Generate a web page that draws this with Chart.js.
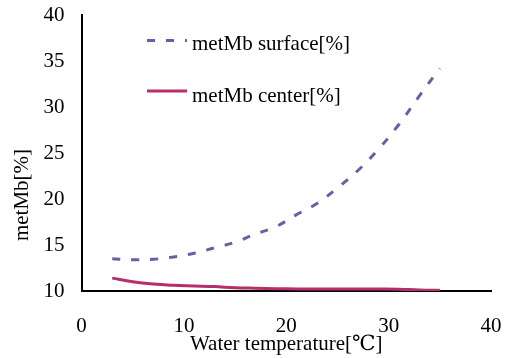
<!DOCTYPE html>
<html>
<head>
<meta charset="utf-8">
<script src="https://cdn.jsdelivr.net/npm/chart.js@4/dist/chart.umd.min.js"></script>
<style>
html,body{margin:0;padding:0;background:#fff;}
#wrap{width:508px;height:358px;position:relative;}
#fontprobe{position:absolute;left:-1000px;top:0;font-family:'Liberation Serif';font-size:21px;}
</style>
</head>
<body>
<span id="fontprobe">metMb Water 0123456789[%]&#8451;</span>
<div id="wrap"><canvas id="c" width="508" height="358"></canvas></div>
<script>
const temperatures = [3, 5, 7, 9, 11, 13, 15, 17, 19, 21, 23, 25, 27, 29, 31, 33, 35];
const surfaceValues = [13.5, 13.4, 13.45, 13.7, 14.1, 14.7, 15.3, 16.2, 17.0, 18.3, 19.5, 21.2, 23.1, 25.4, 28.1, 31.2, 34.2];
const centerValues = [11.4, 11.0, 10.75, 10.62, 10.55, 10.48, 10.35, 10.3, 10.25, 10.22, 10.22, 10.22, 10.22, 10.22, 10.2, 10.12, 10.08];
const seriesNames = ["metMb surface[%]", "metMb center[%]"];
const xTickValues = [0, 10, 20, 30, 40];
const yTickValues = [10, 15, 20, 25, 30, 35, 40];
const xTitle = "Water temperature[\u2103]";
const yTitle = "metMb[%]";

const FONT = "'Liberation Serif', 'DejaVu Serif', serif";
const FSIZE = 21;

const toPoints = (xs, ys) => xs.map((x, i) => ({x: x, y: ys[i]}));

function zeroPad(s) {
  s.paddingTop = 0; s.paddingBottom = 0; s.paddingLeft = 0; s.paddingRight = 0;
}

const legendPlugin = {
  id: 'customLegend',
  afterDraw(chart) {
    const ctx = chart.ctx;
    const rows = [{lineY: 40.5, textY: 50}, {lineY: 91, textY: 102}];
    chart.data.datasets.forEach((ds, i) => {
      const r = rows[i];
      ctx.save();
      ctx.strokeStyle = ds.borderColor;
      ctx.lineWidth = ds.borderWidth;
      ctx.setLineDash(ds.borderDash || []);
      ctx.lineCap = 'butt';
      ctx.beginPath();
      ctx.moveTo(147, r.lineY);
      ctx.lineTo(187, r.lineY);
      ctx.stroke();
      ctx.setLineDash([]);
      ctx.fillStyle = '#000';
      ctx.font = FSIZE + "px " + FONT;
      ctx.textAlign = 'left';
      ctx.textBaseline = 'alphabetic';
      ctx.fillText(ds.label, 192, r.textY);
      ctx.restore();
    });
    ctx.save();
    ctx.translate(22, 195);
    ctx.rotate(-Math.PI / 2);
    ctx.fillStyle = '#000';
    ctx.font = FSIZE + "px " + FONT;
    ctx.textAlign = 'center';
    ctx.textBaseline = 'middle';
    ctx.fillText(yTitle, 0, 0);
    ctx.restore();
  }
};

function draw() {
  new Chart(document.getElementById('c'), {
    type: 'line',
    data: {
      datasets: [
        {
          label: seriesNames[0],
          data: toPoints(temperatures, surfaceValues),
          borderColor: '#6262a6',
          borderWidth: 3,
          borderDash: [8, 11],
          pointRadius: 0,
          fill: false,
          tension: 0.4
        },
        {
          label: seriesNames[1],
          data: toPoints(temperatures, centerValues),
          borderColor: '#b5306a',
          borderWidth: 3,
          pointRadius: 0,
          fill: false,
          tension: 0.4
        }
      ]
    },
    options: {
      responsive: false,
      animation: false,
      devicePixelRatio: 1,
      layout: {padding: {left: 0, right: 17, top: 15, bottom: 0}},
      plugins: {legend: {display: false}, tooltip: {enabled: false}},
      scales: {
        x: {
          type: 'linear',
          min: 0, max: 40,
          afterBuildTicks: (s) => { s.ticks = xTickValues.map(v => ({value: v})); },
          afterFit: (s) => { s.height = 67; zeroPad(s); },
          grid: {display: false, drawTicks: false},
          border: {display: true, color: '#000', width: 2},
          ticks: {color: '#000', font: {family: FONT, size: FSIZE}, padding: 23, maxRotation: 0},
          title: {display: true, text: xTitle, color: '#000', font: {family: FONT, size: FSIZE}, padding: {top: 0, bottom: 1}}
        },
        y: {
          type: 'linear',
          min: 10, max: 40,
          afterBuildTicks: (s) => { s.ticks = yTickValues.map(v => ({value: v})); },
          afterFit: (s) => { s.width = 81.5; zeroPad(s); },
          grid: {display: false, drawTicks: false},
          border: {display: true, color: '#000', width: 2},
          ticks: {color: '#000', font: {family: FONT, size: FSIZE}, padding: 17}
        }
      }
    },
    plugins: [legendPlugin]
  });
}

if (document.fonts && document.fonts.load) {
  document.fonts.load(FSIZE + "px 'Liberation Serif'").then(draw, draw);
} else {
  draw();
}
</script>
</body>
</html>
